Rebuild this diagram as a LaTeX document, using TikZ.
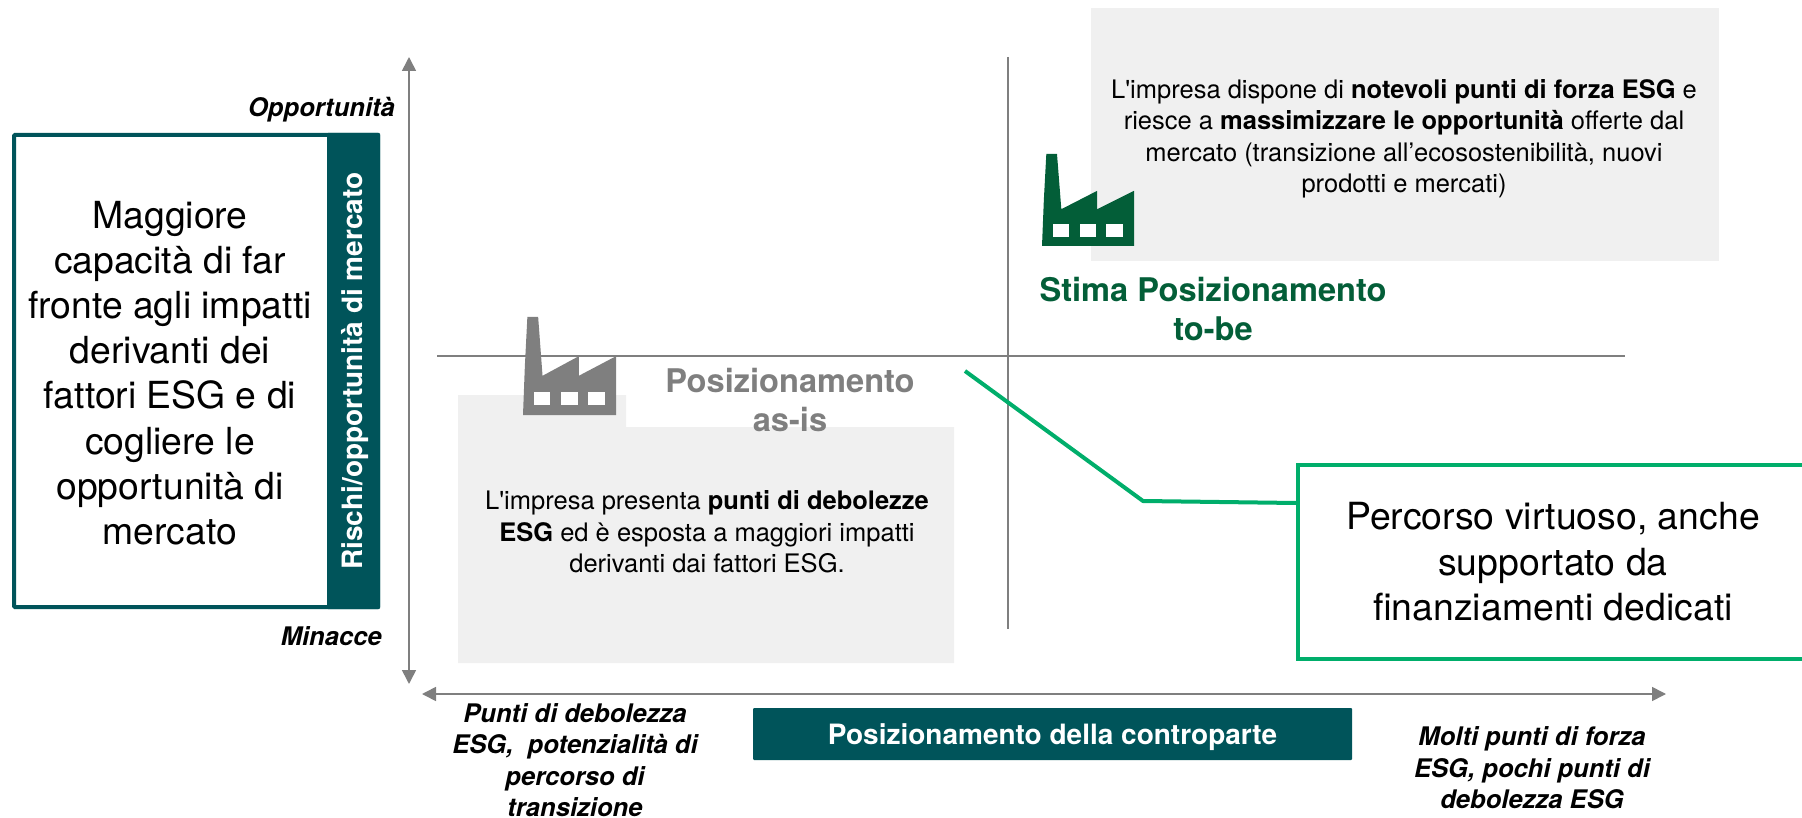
\documentclass[tikz,border=0pt]{standalone}
\usepackage{fontspec}
\newfontfamily\hv{TeX Gyre Heros}
\usetikzlibrary{arrows.meta}
\definecolor{teal1}{HTML}{00545A}
\definecolor{green1}{HTML}{035E38}
\definecolor{green2}{HTML}{00AE6B}
\definecolor{gray1}{HTML}{7F7F7F}
\definecolor{gray2}{HTML}{F0F0F0}
\newcommand{\fs}[2]{\hv\fontsize{#1}{#2}\selectfont}
\tikzset{
  axisline/.style={draw=gray1,line width=1.6pt},
  axisarrow/.style={axisline,{Triangle[length=14pt,width=14pt]}-{Triangle[length=14pt,width=14pt]}},
  body/.style={align=center,inner sep=0pt,text=black,font=\fs{25.5}{31.5}},
  axislabel/.style={align=center,inner sep=0pt,text=black,font=\fs{25.6}{31.5}\bfseries\itshape},
  whitebold/.style={inner sep=0pt,text=white,font=\fs{28}{32}\bfseries},
  poslabel/.style={align=center,inner sep=0pt,font=\fs{32.6}{39}\bfseries},
  factory/.pic={
    \path[pic actions,draw=none] (0,1) -- (0.02,0.5) -- (0.047,0) -- (0.163,0) -- (0.21,0.6) -- (0.6,0.4) -- (0.6,0.6) -- (1,0.4) -- (1,1) -- cycle;
    \foreach \a/\b in {0.12/0.295,0.41/0.59,0.70/0.88}
      \fill[white] (\a,0.763) rectangle (\b,0.9);
  }
}
\begin{document}
\begin{tikzpicture}[x=1pt,y=-1pt]
\useasboundingbox (0,0) rectangle (1802,818);
% grey panels
\fill[gray2] (458,395) -- (626,395) -- (626,427) -- (954,427) -- (954,663) -- (458,663) -- cycle;
\fill[gray2] (1091,8) rectangle (1719,261);
% axes
\coordinate (vtop) at (409,57);
\coordinate (vbot) at (409,684);
\coordinate (hleft) at (422,694);
\coordinate (hright) at (1666,694);
\coordinate (xv1) at (1008,57);
\coordinate (xv2) at (1008,629);
\coordinate (xh1) at (437,356);
\coordinate (xh2) at (1625,356);
\draw[axisarrow] (vtop) -- (vbot);
\draw[axisarrow] (hleft) -- (hright);
\draw[draw=gray1,line width=1.2pt] (xv1) -- (xv2);
\draw[draw=gray1,line width=1.2pt] (xh1) -- (xh2);
% left box
\node[draw=teal1,line width=4pt,fill=white,rounded corners=1pt,outer sep=0pt,minimum width=364pt,minimum height=472pt,inner sep=0pt,anchor=north west] (mainbox) at (14,135) {};
\fill[teal1,rounded corners=1pt] (327,133) rectangle (380,609);
\node[align=center,inner sep=0pt,font=\fs{37.3}{45.2}] (maintext) at (170,373) {Maggiore\\capacità di far\\fronte agli impatti\\derivanti dei\\fattori ESG e di\\cogliere le\\opportunità di\\mercato};
\node[whitebold,rotate=90] (band) at (355,371) {Rischi/opportunità di mercato};
\node[axislabel,anchor=east] (opp) at (395,110) {Opportunità};
\node[axislabel,anchor=east] (min) at (382,636) {Minacce};
% factories
\begin{scope}[shift={(523,317)},xscale=93,yscale=98]
\pic[fill=gray1,transform shape] {factory};
\end{scope}
\begin{scope}[shift={(1042,154)},xscale=92,yscale=92]
\pic[fill=green1,transform shape] {factory};
\end{scope}
% position labels
\node[poslabel,text=gray1] (asis) at (790,400) {Posizionamento\\as-is};
\node[poslabel,text=green1] (tobe) at (1213,309) {Stima Posizionamento\\to-be};
% texts
\node[body] (t1) at (1404,139) {L'impresa dispone di \textbf{notevoli punti di forza ESG} e\\riesce a \textbf{massimizzare le opportunità} offerte dal\\mercato (transizione all’ecosostenibilità, nuovi\\prodotti e mercati)};
\node[body] (t2) at (707,532) {L'impresa presenta \textbf{punti di debolezze}\\\textbf{ESG} ed è esposta a maggiori impatti\\derivanti dai fattori ESG.};
% percorso
\node[draw=green2,line width=4pt,fill=white,minimum width=510pt,minimum height=194pt,inner sep=0pt,align=center,font=\fs{37.4}{45.5}] (perc) at (1553,562) {Percorso virtuoso, anche\\supportato da\\finanziamenti dedicati};
\coordinate (cstart) at (965,371);
\coordinate (cbend) at (1143,501);
\coordinate (cend) at (perc.west |- 0,503);
\draw[green2,line width=4pt] (cstart) -- (cbend) -- (cend);
% bottom
\node[fill=teal1,rounded corners=1pt,minimum width=599pt,minimum height=52pt,inner sep=0pt,text=white,text height=27pt,text depth=6pt,font=\fs{28}{32}\bfseries] (bar) at (1052.5,734) {Posizionamento della controparte};
\node[axislabel] (bl) at (575,760) {Punti di debolezza\\ESG,~~potenzialità di\\percorso di\\transizione};
\node[axislabel] (br) at (1532,768) {Molti punti di forza\\ESG, pochi punti di\\debolezza ESG};
\end{tikzpicture}
\end{document}
